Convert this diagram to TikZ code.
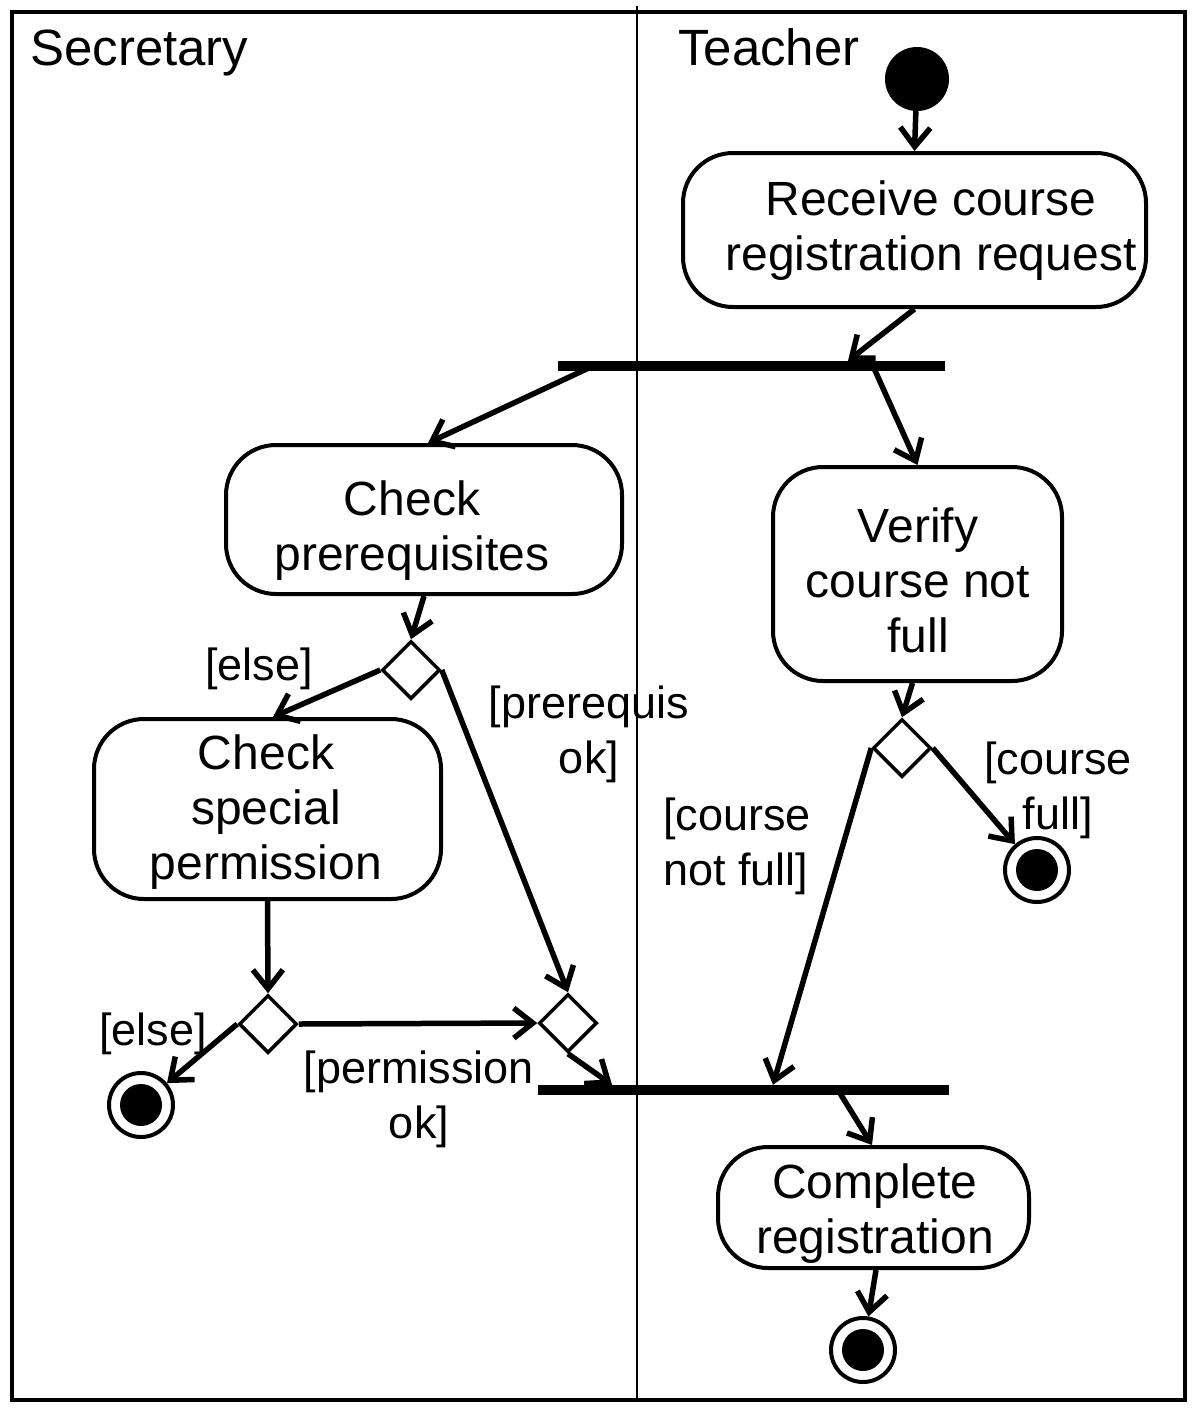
\documentclass[tikz,border=0pt]{standalone}
\usepackage{fontspec}
\setmainfont{Liberation Sans}
\usetikzlibrary{arrows.meta,shapes.geometric,calc}
% text block of an activity: #1 = shift right, #2 = extra depth (moves text down by half), #3 = lines
\newcommand{\acttext}[3]{\hspace*{#1}\rule[-#2]{0pt}{#2}\smash{\begin{tabular}[t]{@{}c@{}}#3\end{tabular}}\hspace*{-#1}}
\begin{document}
\begin{tikzpicture}[x=1pt,y=-1pt,
  act/.style={draw,line width=4pt,rounded corners=50pt,inner sep=0pt,font=\fontsize{48}{55}\selectfont},
  bar/.style={fill=black,inner sep=0pt,minimum height=10pt},
  dec/.style={draw,diamond,line width=3.5pt,inner sep=0pt,minimum width=58pt,minimum height=58pt,aspect=1},
  initst/.style={circle,fill=black,inner sep=0pt,minimum size=64pt},
  finst/.style={circle,draw,line width=4pt,inner sep=0pt,minimum size=64pt,path picture={\fill[black] (path picture bounding box.center) circle (21pt);}},
  flow/.style={->,line width=5.5pt},
  guard/.style={font=\fontsize{45}{55}\selectfont,align=center,inner sep=0pt},
  lane/.style={font=\fontsize{51}{55}\selectfont,anchor=base west,inner sep=0pt},
  >={Straight Barb[length=19pt,width=30pt]}
]
\useasboundingbox (0,0) rectangle (1196,1414);
% swimlanes
\draw[line width=3.5pt] (12,12) rectangle (1185,1400);
\draw[line width=2.5pt] (637,6) -- (637,1400);
\node[lane] (sec) at (30,65) {Secretary};
\node[lane] (tea) at (678,65) {Teacher};

% nodes
\node[initst] (init) at (917,79) {};
\node[act,minimum width=463pt,minimum height=154pt] (rec) at (914.5,230) {\acttext{16.5pt}{30pt}{Receive course\\registration request}};
\node[bar,minimum width=387pt] (fork) at (751.5,366) {};
\node[act,minimum width=396pt,minimum height=149pt] (prq) at (424,519.5) {\acttext{-12pt}{9pt}{Check\\prerequisites}};
\node[act,minimum width=289pt,minimum height=214pt] (ver) at (917.5,574) {\acttext{0.5pt}{64pt}{Verify\\course not\\full}};
\node[dec] (d1) at (411,670) {};
\node[act,minimum width=347pt,minimum height=180pt] (spc) at (267.5,809) {\acttext{-1.5pt}{80pt}{Check\\special\\permission}};
\node[dec] (d3) at (268,1024) {};
\node[finst] (fin1) at (141,1105) {};
\node[dec] (d2) at (568,1023) {};
\node[bar,minimum width=411pt] (join) at (743.5,1090) {};
\node[dec] (d4) at (902,748) {};
\node[finst] (fin2) at (1037,870) {};
\node[act,minimum width=311pt,minimum height=121pt] (cmp) at (873.5,1207.5) {\acttext{1.5pt}{19pt}{Complete\\registration}};
\node[finst] (fin3) at (863,1350) {};

% guards
\node[guard] (g1) at (259,669) {[else]};
\node[guard] (g2) at (589,734) {[prerequis\\ok]};
\node[guard,anchor=west,align=left] (g3) at (663,846) {[course\\not full]};
\node[guard] (g4) at (1058,790) {[course\\full]};
\node[guard] (g5) at (153,1034) {[else]};
\node[guard] (g6) at (419,1099) {[permission\\ok]};

% connectors
\draw[flow] (init) -- (rec.north);
\draw[flow] (rec.south) -- ([xshift=96.5pt]fork.north);
\draw[flow] ([xshift=-158.5pt]fork.center) -- ([xshift=4pt]prq.north);
\draw[flow] ([xshift=121.5pt]fork.center) -- (ver.north);
\draw[flow] (prq.south) -- (d1.north);
\draw[flow] (d1.west) -- ([xshift=5.5pt]spc.north);
\draw[flow] (d1.east) -- (d2.north);
\draw[flow] (spc.south) -- (d3.north);
\draw[flow] (d3.west) -- (fin1);
\draw[flow] (d3.east) -- (d2.west);
\draw[flow] (d2.south) -- ([xshift=-131.5pt]join.north);
\draw[flow] ([xshift=-5pt]ver.south) -- (d4.north);
\draw[flow] (d4.east) -- (fin2);
\draw[flow] (d4.west) -- ([xshift=29.5pt]join.north);
\draw[flow] ([xshift=94.5pt]join.center) -- ([xshift=-1.5pt]cmp.north);
\draw[flow] ([xshift=2.5pt]cmp.south) -- (fin3);
\end{tikzpicture}
\end{document}
